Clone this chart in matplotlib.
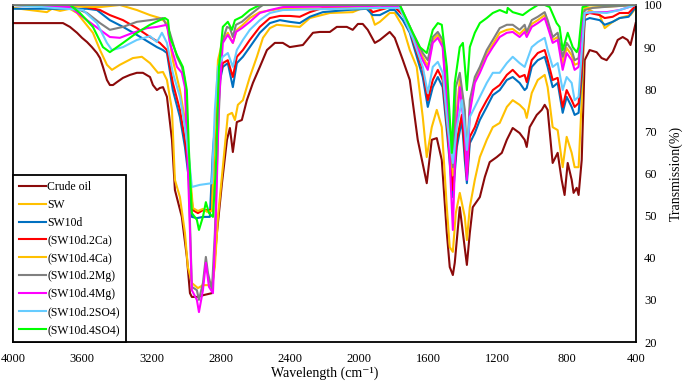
import matplotlib.pyplot as plt

plt.rcParams['font.family'] = ['Liberation Serif', 'DejaVu Serif']

# ---- data (wavenumber cm-1, transmission %) ----
crude_w = [4000, 3711, 3671, 3630, 3601, 3572, 3544, 3515, 3497, 3480, 3457, 3440, 3422, 3399, 3364, 3324,
           3284, 3249, 3208, 3191, 3168, 3151, 3133, 3110, 3081, 3064, 3024, 2995, 2977, 2966, 2937, 2902,
           2850, 2821, 2792, 2763, 2746, 2729, 2706, 2677, 2648, 2613, 2573, 2532, 2486, 2440, 2400, 2324,
           2266, 2226, 2168, 2128, 2070, 2036, 2006, 1978, 1949, 1908, 1879, 1822, 1793, 1746, 1706, 1660,
           1608, 1579, 1550, 1521, 1492, 1475, 1457, 1446, 1417, 1399, 1376, 1359, 1342, 1301, 1272, 1244,
           1203, 1174, 1145, 1111, 1071, 1042, 1030, 1013, 972, 943, 926, 909, 880, 851, 828, 811, 793, 770,
           759, 741, 730, 712, 695, 666, 626, 597, 568, 533, 504, 475, 447, 430, 400]
crude_t = [95.7, 95.7, 94.8, 93.4, 92.2, 91.2, 90.0, 88.6, 87.4, 85.3, 82.2, 81.0, 81.0, 81.7, 82.7, 83.4,
           83.9, 83.9, 82.9, 81.0, 79.8, 80.3, 80.5, 78.2, 68.0, 56.1, 49.7, 40.2, 31.6, 30.7, 30.7, 31.1,
           31.6, 45.9, 57.7, 68.0, 70.8, 65.1, 72.2, 72.7, 77.4, 81.5, 85.3, 89.3, 91.0, 91.0, 90.0, 90.5,
           93.4, 93.6, 93.6, 94.8, 94.8, 94.1, 95.5, 95.5, 94.1, 91.0, 91.7, 93.6, 92.2, 86.9, 82.2, 68.0,
           57.7, 68.0, 68.4, 63.2, 45.9, 37.8, 35.9, 38.8, 52.0, 45.9, 38.3, 45.9, 52.0, 54.4, 59.2, 62.7,
           63.9, 64.9, 68.0, 70.8, 69.6, 68.0, 66.3, 71.0, 73.9, 75.1, 76.3, 75.1, 62.5, 64.9, 58.5, 54.9, 62.5, 58.5,
           55.4, 56.6, 54.9, 63.2, 86.9, 89.3, 88.8, 87.4, 86.9, 88.8, 91.7, 92.4, 91.7, 90.5, 95.7]

sw_w = [4000, 3804, 3775, 3728, 3671, 3630, 3538, 3497, 3457, 3428, 3382, 3307, 3255, 3208, 3162, 3133,
        3110, 3081, 3064, 3035, 3006, 2989, 2966, 2931, 2902, 2850, 2833, 2815, 2787, 2758, 2734, 2717,
        2700, 2671, 2631, 2590, 2555, 2515, 2475, 2400, 2342, 2284, 2168, 2036, 1978, 1937, 1908, 1879,
        1822, 1793, 1746, 1706, 1666, 1631, 1608, 1579, 1550, 1521, 1492, 1475, 1457, 1440, 1417, 1388,
        1376, 1359, 1330, 1301, 1261, 1226, 1186, 1145, 1111, 1071, 1042, 1030, 1001, 966, 926, 909, 880,
        851, 822, 799, 770, 753, 730, 712, 695, 666, 608, 579, 533, 493, 430, 400]
sw_t = [99.3, 98.3, 99.1, 98.6, 99.1, 98.1, 93.4, 89.3, 85.8, 84.6, 85.8, 87.4, 87.7, 86.2, 83.9, 84.1,
        82.2, 75.1, 58.5, 54.4, 45.9, 37.8, 34.0, 32.8, 33.5, 33.5, 37.8, 49.7, 61.5, 73.9, 74.4, 72.7,
        76.3, 77.4, 82.9, 87.7, 92.2, 94.5, 95.3, 95.0, 94.8, 96.9, 98.1, 98.3, 99.3, 98.8, 95.3, 96.0,
        98.1, 98.1, 94.8, 89.3, 85.3, 73.4, 63.9, 71.0, 75.1, 71.0, 52.0, 42.5, 41.4, 50.6, 55.4, 49.7,
        44.2, 52.0, 58.5, 63.9, 68.0, 71.0, 72.0, 75.8, 77.4, 76.3, 75.1, 73.2, 79.1, 82.2, 83.4, 80.5, 71.0,
        70.3, 61.5, 68.7, 64.9, 61.5, 61.5, 77.4, 97.2, 98.8, 97.6, 94.5, 96.0, 96.9, 97.6, 99.3]

sw10d_w = [4000, 3572, 3515, 3440, 3364, 3284, 3208, 3168, 3133, 3110, 3076, 3035, 3006, 2983, 2966, 2937,
           2902, 2862, 2844, 2815, 2787, 2758, 2729, 2706, 2671, 2631, 2573, 2515, 2457, 2400, 2342, 2284,
           2209, 2070, 1955, 1920, 1879, 1822, 1793, 1746, 1706, 1689, 1631, 1602, 1573, 1544, 1516, 1487,
           1457, 1434, 1405, 1388, 1376, 1359, 1330, 1301, 1261, 1226, 1186, 1145, 1111, 1071, 1042, 1030,
           1001, 966, 926, 909, 880, 851, 822, 799, 770, 753, 730, 712, 695, 666, 608, 579, 533, 493, 441, 400]
sw10d_t = [99.1, 99.1, 98.8, 96.4, 94.8, 92.9, 91.0, 90.0, 89.3, 88.6, 79.8, 73.4, 66.3, 58.5, 49.7, 49.4,
           49.7, 49.7, 65.6, 79.8, 85.3, 86.2, 80.5, 86.2, 87.7, 90.0, 93.4, 95.7, 96.4, 96.0, 95.7, 97.2,
           98.3, 98.8, 99.1, 97.6, 97.6, 98.8, 98.8, 96.4, 93.4, 91.0, 82.9, 75.8, 80.5, 82.9, 80.5, 68.0,
           54.4, 66.3, 72.7, 63.2, 57.7, 67.2, 69.6, 72.7, 75.8, 78.6, 79.8, 82.2, 82.9, 81.5, 79.8, 80.3,
           85.3, 86.9, 87.7, 85.3, 80.5, 81.5, 74.4, 78.2, 75.8, 73.9, 74.4, 82.9, 96.4, 96.9, 96.4, 95.3, 96.0,
           96.9, 97.2, 99.5]

ca2_w = [4000, 3630, 3497, 3440, 3364, 3284, 3208, 3151, 3110, 3076, 3035, 3006, 2983, 2960, 2931, 2902,
         2850, 2833, 2815, 2787, 2758, 2729, 2706, 2671, 2631, 2573, 2515, 2457, 2400, 2342, 2284, 2209,
         2070, 1955, 1920, 1879, 1822, 1793, 1746, 1706, 1689, 1631, 1602, 1573, 1544, 1516, 1487, 1457,
         1434, 1405, 1388, 1376, 1359, 1330, 1301, 1261, 1226, 1186, 1145, 1111, 1071, 1042, 1030, 1001,
         966, 926, 909, 880, 851, 822, 799, 770, 753, 730, 712, 695, 666, 608, 579, 533, 493, 441, 400]
ca2_t = [100, 100, 98.8, 97.6, 96.4, 94.5, 92.4, 91.0, 89.3, 81.5, 75.1, 68.0, 60.1, 51.3, 50.6, 51.3,
         51.3, 68.0, 80.5, 86.2, 86.9, 82.9, 87.7, 89.3, 91.7, 94.8, 96.9, 97.4, 97.4, 97.2, 98.3, 99.3,
         99.5, 99.8, 98.3, 98.8, 99.5, 99.5, 97.6, 94.8, 91.7, 84.6, 77.4, 82.2, 84.6, 82.2, 69.6, 56.1,
         68.0, 73.9, 65.6, 59.2, 68.7, 71.0, 74.4, 77.4, 79.8, 81.0, 83.4, 84.6, 82.9, 83.4, 81.7, 86.9,
         88.6, 89.3, 86.9, 82.2, 82.7, 75.8, 79.8, 77.4, 75.8, 76.7, 84.6, 97.6, 98.1, 97.6, 96.9, 97.2,
         98.1, 98.1, 99.8]

ca4_w = [4000, 3497, 3382, 3284, 3208, 3151, 3110, 3076, 3035, 3006, 2983, 2960, 2931, 2902, 2879, 2850,
         2833, 2815, 2787, 2758, 2729, 2706, 2671, 2631, 2573, 2457, 1764, 1689, 1631, 1602, 1573, 1544,
         1516, 1487, 1457, 1440, 1417, 1388, 1376, 1359, 1330, 1301, 1261, 1226, 1186, 1145, 1111, 1071,
         1042, 1030, 1001, 966, 926, 909, 880, 851, 822, 799, 770, 753, 730, 712, 695, 400]
ca4_t = [100, 99.5, 100, 98.8, 97.6, 96.9, 95.7, 86.9, 79.8, 72.7, 63.2, 51.8, 51.1, 51.6, 50.9, 51.1,
         70.3, 86.9, 91.7, 93.4, 91.0, 94.1, 95.3, 96.9, 98.3, 99.1, 99.3, 92.6, 87.7, 85.5, 91.7, 92.9,
         90.7, 75.1, 59.6, 72.7, 82.2, 72.7, 60.4, 75.5, 82.2, 84.6, 88.6, 90.7, 93.4, 94.1, 94.3, 93.1,
         94.3, 92.9, 95.5, 96.4, 97.6, 95.5, 91.7, 92.4, 86.2, 89.8, 88.1, 85.8, 86.2, 94.5, 99.3, 100]

mg2_w = [4000, 3653, 3572, 3497, 3440, 3364, 3284, 3208, 3133, 3093, 3052, 3024, 3006, 2989, 2966, 2937,
         2925, 2902, 2885, 2873, 2850, 2833, 2815, 2792, 2763, 2746, 2729, 2711, 2677, 2631, 2573, 2555,
         1764, 1689, 1631, 1602, 1573, 1544, 1516, 1487, 1457, 1440, 1417, 1388, 1376, 1359, 1330, 1301,
         1261, 1226, 1186, 1145, 1111, 1071, 1042, 1030, 1001, 966, 926, 909, 880, 851, 822, 799, 770,
         753, 730, 712, 695, 649, 591, 400]
mg2_t = [100, 99.5, 98.1, 95.7, 94.1, 94.8, 96.0, 96.4, 96.9, 93.4, 87.7, 85.3, 82.2, 65.6, 33.1, 32.3,
         30.0, 34.0, 40.2, 36.4, 32.3, 45.9, 69.6, 91.0, 94.8, 94.5, 92.4, 95.3, 96.0, 97.6, 99.5, 100,
         100, 93.4, 88.6, 86.9, 92.4, 93.6, 91.7, 75.8, 61.5, 80.5, 83.9, 75.1, 62.5, 77.4, 82.9, 85.3,
         89.3, 91.7, 94.5, 95.3, 95.3, 94.1, 95.3, 93.6, 96.4, 97.2, 98.3, 96.4, 92.4, 93.4, 87.7, 91.0, 89.3,
         86.9, 87.4, 94.8, 98.8, 99.3, 99.5, 100]

mg4_w = [4000, 3671, 3572, 3497, 3440, 3382, 3307, 3226, 3168, 3110, 3093, 3052, 3024, 3006, 2989, 2966,
         2937, 2925, 2902, 2885, 2867, 2844, 2827, 2809, 2787, 2758, 2729, 2711, 2677, 2631, 2573, 2515,
         2440, 1879, 1764, 1689, 1631, 1602, 1573, 1544, 1516, 1487, 1457, 1440, 1417, 1388, 1376, 1359,
         1330, 1301, 1261, 1226, 1186, 1145, 1111, 1071, 1042, 1030, 1001, 966, 926, 909, 880, 851, 822,
         799, 770, 753, 730, 712, 695, 649, 568, 493, 400]
mg4_t = [100, 99.5, 96.4, 94.1, 92.4, 92.2, 93.4, 94.5, 94.8, 95.3, 91.0, 85.3, 83.9, 80.5, 61.5, 32.3,
         30.0, 27.1, 32.3, 38.8, 33.1, 31.6, 49.7, 77.4, 91.0, 92.9, 91.0, 93.6, 94.5, 96.0, 98.1, 98.8,
         99.5, 99.8, 99.5, 92.4, 86.9, 84.6, 91.0, 92.2, 90.0, 73.4, 46.6, 69.6, 80.5, 69.6, 58.5, 74.4,
         81.5, 83.9, 87.7, 90.0, 92.4, 93.4, 93.6, 92.4, 93.6, 92.4, 94.8, 95.7, 96.9, 94.8, 91.0, 91.7, 84.6,
         88.6, 86.9, 84.6, 85.3, 94.1, 98.1, 98.3, 98.3, 98.8, 100]

so2_w = [4000, 3596, 3515, 3457, 3428, 3364, 3284, 3208, 3168, 3139, 3110, 3076, 3035, 3006, 2983, 2966,
         2920, 2850, 2833, 2815, 2787, 2758, 2729, 2706, 2671, 2631, 2573, 2515, 2440, 1879, 1764, 1689,
         1631, 1602, 1573, 1544, 1516, 1487, 1457, 1434, 1405, 1388, 1376, 1359, 1330, 1301, 1261, 1226,
         1186, 1145, 1111, 1071, 1042, 1001, 966, 926, 909, 880, 851, 822, 799, 770, 753, 730, 712, 695,
         649, 568, 493, 400]
so2_t = [100, 98.8, 95.7, 91.0, 89.3, 90.0, 91.7, 92.6, 91.2, 93.4, 91.0, 83.9, 78.2, 71.0, 63.9, 56.8,
         57.3, 57.7, 75.1, 85.3, 87.7, 88.6, 85.3, 89.3, 91.7, 94.1, 96.4, 98.1, 98.8, 99.3, 99.3, 92.2,
         85.3, 79.1, 85.3, 86.5, 83.9, 71.0, 62.5, 71.0, 77.4, 71.0, 65.6, 73.4, 75.8, 78.2, 81.5, 83.9,
         83.9, 86.2, 87.7, 86.2, 85.3, 90.0, 91.2, 92.2, 89.3, 85.3, 86.2, 79.8, 82.9, 81.5, 77.4, 78.2,
         88.6, 98.1, 98.3, 98.1, 98.8, 100]

so4_w = [4000, 3671, 3613, 3538, 3480, 3440, 3364, 3284, 3208, 3151, 3122, 3104, 3093, 3052, 3018, 2995,
         2983, 2966, 2937, 2925, 2902, 2885, 2867, 2844, 2827, 2809, 2787, 2758, 2734, 2717, 2677, 2631,
         2573, 1764, 1689, 1648, 1608, 1573, 1544, 1521, 1492, 1463, 1446, 1417, 1399, 1376, 1359, 1330,
         1301, 1261, 1226, 1186, 1145, 1140, 1111, 1053, 1013, 966, 926, 897, 857, 840, 822, 793, 764,
         741, 730, 707, 666, 400]
so4_t = [100, 100, 98.1, 94.8, 90.0, 88.8, 91.0, 93.4, 95.3, 96.4, 96.9, 96.4, 92.4, 88.1, 85.3, 79.8,
         65.6, 50.6, 49.0, 46.6, 49.7, 53.2, 50.6, 49.7, 61.5, 85.3, 94.8, 96.0, 94.1, 96.4, 97.2, 98.8,
         100, 100, 93.4, 90.0, 88.6, 94.1, 95.7, 95.3, 85.3, 64.9, 81.5, 90.0, 91.0, 79.8, 90.0, 93.4,
         95.7, 96.9, 98.1, 98.8, 98.1, 99.3, 98.3, 97.6, 98.8, 100, 100, 99.5, 95.7, 94.8, 89.3, 93.4, 90.0,
         88.8, 90.0, 99.5, 100, 100]

labels = ['Crude oil', 'SW', 'SW10d', '(SW10d.2Ca)', '(SW10d.4Ca)', '(SW10d.2Mg)',
          '(SW10d.4Mg)', '(SW10d.2SO4)', '(SW10d.4SO4)']
colors = ['#8B0A0A', '#FFC000', '#0070C0', '#FF0000', '#FFC000', '#808080',
          '#FF00FF', '#66CCFF', '#00FF00']
series = [(crude_w, crude_t), (sw_w, sw_t), (sw10d_w, sw10d_t), (ca2_w, ca2_t), (ca4_w, ca4_t),
          (mg2_w, mg2_t), (mg4_w, mg4_t), (so2_w, so2_t), (so4_w, so4_t)]

fig = plt.figure(figsize=(6.85, 3.83), dpi=100)
ax = fig.add_axes([0.019, 0.107, 0.909, 0.880])

for (w, t), c, lab in zip(series, colors, labels):
    ax.plot(w, t, color=c, lw=1.5, label=lab, solid_joinstyle='round')

ax.set_xlim(4000, 400)
ax.set_ylim(20, 100)
ax.set_xticks(range(4000, 399, -400))
ax.set_yticks(range(20, 101, 10))
ax.yaxis.tick_right()
ax.yaxis.set_label_position('right')
ax.tick_params(length=0, labelsize=9)
ax.tick_params(axis='x', pad=8)
ax.tick_params(axis='y', pad=6)
ax.set_xlabel('Wavelength (cm⁻¹)', fontsize=10, labelpad=1)
ax.set_ylabel('Transmission(%)', fontsize=10, labelpad=5)

for s in ax.spines.values():
    s.set_color('black')
    s.set_linewidth(1.3)
ax.spines['top'].set_color('#777777')

leg = ax.legend(loc='lower left', bbox_to_anchor=(0, 0), borderaxespad=0, fontsize=8.5,
                handlelength=2.3, handletextpad=0.1, labelspacing=0.5, borderpad=0.5,
                fancybox=False, framealpha=1)
leg.get_frame().set_edgecolor('black')
leg.get_frame().set_linewidth(1.3)

fig.savefig('out.png', dpi=100)
